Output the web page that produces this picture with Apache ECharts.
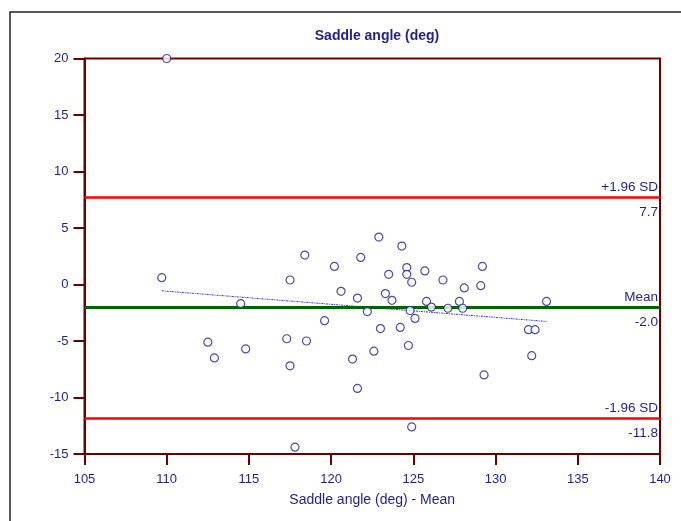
<!DOCTYPE html>
<html>
<head>
<meta charset="utf-8">
<script src="https://cdn.jsdelivr.net/npm/echarts@6/dist/echarts.min.js"></script>
<style>
html,body{margin:0;padding:0;background:#fff;}
#chart{width:681px;height:521px;}
</style>
</head>
<body>
<div id="chart"></div>
<script>
// Bland-Altman data: x = mean, y = difference
const xMean = [110.0,109.7,112.5,112.9,114.5,114.8,117.3,117.5,117.5,117.8,
  118.4,118.5,119.6,120.2,120.6,121.3,121.6,121.6,121.8,122.2,
  122.6,122.9,123.0,123.3,123.5,123.7,124.2,124.3,124.6,124.6,
  124.7,124.8,124.9,124.9,125.1,125.7,125.8,126.1,126.8,127.1,
  127.8,128.0,128.1,129.1,129.2,129.3,132.0,132.2,132.4,133.1];
const yDiff = [20.0,0.6,-5.1,-6.5,-1.7,-5.7,-4.8,0.4,-7.2,-14.4,
  2.6,-5.0,-3.2,1.6,-0.6,-6.6,-1.2,-9.2,2.4,-2.4,
  -5.9,4.2,-3.9,-0.8,0.9,-1.4,-3.8,3.4,1.5,0.9,
  -5.4,-2.3,0.2,-12.6,-3.0,1.2,-1.5,-2.0,0.4,-2.1,
  -1.5,-2.1,-0.3,-0.1,1.6,-8.0,-4.0,-6.3,-4.0,-1.5];
const meanDiff = -2.0;
const upperLoA = 7.7;
const lowerLoA = -11.8;
const regX = [109.7, 133.1];
const regY = [-0.56, -3.27];
const xTicks = [105, 140, 5];
const yTicks = [-15, 20, 5];

const navy = '#1f1f8f';
const maroon = '#6b0000';
const font = 'Liberation Sans, Arial, sans-serif';

const points = xMean.map((x, i) => [x, yDiff[i]]);
const regLine = regX.map((x, i) => [x, regY[i]]);

function refLine(value, color, width, topText, bottomText) {
  return [
    { yAxis: value, lineStyle: { color: color, width: width, type: 'solid' },
      label: { show: true, position: 'insideEndTop', formatter: topText, color: navy,
               fontSize: 13.5, fontFamily: font, distance: [2, 3] } },
    { yAxis: value, lineStyle: { color: 'rgba(0,0,0,0)', width: 1 },
      label: { show: true, position: 'insideEndBottom', formatter: bottomText, color: navy,
               fontSize: 13.5, fontFamily: font, distance: [2, 8] } }
  ];
}

const chart = echarts.init(document.getElementById('chart'), null, { renderer: 'canvas' });
chart.setOption({
  animation: false,
  backgroundColor: '#fff',
  title: {
    text: 'Saddle angle (deg)',
    left: 372, top: 24, textAlign: 'center',
    textStyle: { color: navy, fontSize: 14, fontWeight: 'bold', fontFamily: font }
  },
  graphic: [{
    type: 'rect', shape: { x: 10, y: 12, width: 800, height: 600 },
    style: { fill: 'none', stroke: '#222', lineWidth: 1.5 }, silent: true
  }],
  grid: {
    left: 84.5, right: 21, top: 58.5, bottom: 67,
    show: true, borderColor: maroon, borderWidth: 2, backgroundColor: 'transparent'
  },
  xAxis: {
    type: 'value', min: xTicks[0], max: xTicks[1], interval: xTicks[2],
    name: 'Saddle angle (deg) - Mean', nameLocation: 'middle', nameGap: 39,
    nameTextStyle: { color: navy, fontSize: 14, fontFamily: font },
    axisLine: { show: true, onZero: false, lineStyle: { color: maroon, width: 2 } },
    axisTick: { show: true, inside: false, length: 11, lineStyle: { color: maroon, width: 2 } },
    axisLabel: { color: navy, fontSize: 13, margin: 19, fontFamily: font },
    splitLine: { show: false }
  },
  yAxis: {
    type: 'value', min: yTicks[0], max: yTicks[1], interval: yTicks[2],
    axisLine: { show: true, onZero: false, lineStyle: { color: maroon, width: 2 } },
    axisTick: { show: true, inside: false, length: 11, lineStyle: { color: maroon, width: 2 } },
    axisLabel: { color: navy, fontSize: 13, margin: 16, fontFamily: font },
    splitLine: { show: false }
  },
  series: [
    {
      type: 'line', data: [], silent: true,
      markLine: {
        silent: true, symbol: 'none', animation: false,
        data: [].concat(
          refLine(upperLoA, '#ff0000', 2.5, '+1.96 SD', upperLoA.toFixed(1)),
          refLine(meanDiff, '#006400', 3, 'Mean', meanDiff.toFixed(1)),
          refLine(lowerLoA, '#ff0000', 2.5, '-1.96 SD', lowerLoA.toFixed(1))
        )
      }
    },
    {
      type: 'line', data: regLine, symbol: 'none', silent: true,
      lineStyle: { color: '#2a2aff', width: 1, type: [2, 1, 1, 1] }
    },
    {
      type: 'scatter', data: points, symbol: 'circle', symbolSize: 8, clip: false,
      itemStyle: { color: '#fff', borderColor: navy, borderWidth: 1.2 }, z: 5
    }
  ]
});
</script>
</body>
</html>
